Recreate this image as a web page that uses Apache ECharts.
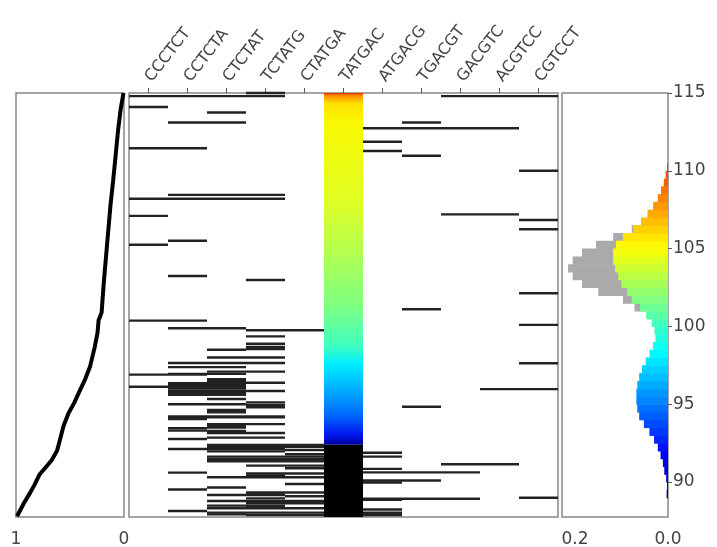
<!DOCTYPE html>
<html>
<head>
<meta charset="utf-8">
<script src="https://cdn.jsdelivr.net/npm/echarts@6/dist/echarts.min.js"></script>
<style>
html, body { margin: 0; padding: 0; background: #fff; }
#main { width: 717px; height: 547px; }
</style>
</head>
<body>
<div id="main"></div>
<script>
// k-mer columns of the middle panel
var kmers = ['CCCTCT', 'CCTCTA', 'CTCTAT', 'TCTATG', 'CTATGA', 'TATGAC', 'ATGACG', 'TGACGT', 'GACGTC', 'ACGTCC', 'CGTCCT'];
var yTicks = [90, 95, 100, 105, 110, 115];
var yRange = [87.75, 115];

// left panel: cumulative curve [fraction, y]
var cumCurve = [
    [0.005, 115.0], [0.03, 114.0], [0.055, 112.6], [0.08, 110.8], [0.10, 109.4],
    [0.125, 107.8], [0.145, 106.2], [0.165, 104.6], [0.185, 103.0], [0.20, 101.6],
    [0.207, 100.9], [0.235, 100.4], [0.245, 99.6], [0.27, 98.7], [0.315, 97.4],
    [0.36, 96.6], [0.407, 95.9], [0.46, 95.1], [0.515, 94.4], [0.56, 93.6],
    [0.59, 92.8], [0.62, 92.0], [0.67, 91.4], [0.73, 90.9], [0.78, 90.5],
    [0.83, 89.8], [0.87, 89.3], [0.93, 88.6], [0.99, 87.8]
];

// middle panel: [y, first k-mer index, last k-mer index]
var segments = [
    [115.0, 3, 3], [114.8, 0, 3], [114.8, 8, 10], [114.1, 0, 0], [113.75, 2, 2],
    [113.1, 1, 2], [113.1, 7, 7], [112.73, 6, 9], [111.87, 6, 6], [111.45, 0, 1],
    [111.27, 6, 6], [110.97, 7, 7], [110.0, 10, 10], [108.45, 1, 3], [108.2, 0, 3],
    [107.2, 8, 9], [107.1, 0, 0], [106.84, 10, 10], [106.24, 10, 10], [105.5, 1, 1],
    [105.25, 0, 0], [103.24, 1, 1], [102.98, 3, 3], [102.13, 10, 10], [101.1, 7, 7],
    [100.37, 0, 1], [100.1, 10, 10], [99.88, 1, 2], [99.75, 3, 4], [99.36, 3, 3],
    [98.88, 3, 3], [98.68, 3, 3], [98.55, 3, 3], [98.5, 2, 2], [98.0, 2, 3],
    [97.65, 1, 3], [97.63, 10, 10], [97.38, 1, 2], [97.09, 2, 3], [96.95, 1, 2],
    [96.9, 0, 1], [96.6, 2, 2], [96.5, 2, 2], [96.38, 3, 3], [96.35, 1, 2],
    [96.25, 1, 2], [96.12, 0, 0], [96.12, 1, 2], [96.0, 1, 2], [95.97, 9, 10],
    [95.85, 3, 3], [95.85, 1, 2], [95.72, 1, 2], [95.6, 1, 2], [95.33, 2, 2],
    [95.12, 3, 3], [95.0, 1, 2], [94.95, 3, 3], [94.84, 7, 7], [94.8, 3, 3],
    [94.63, 2, 2], [94.48, 2, 2], [94.22, 1, 3], [94.15, 1, 3], [94.05, 1, 1],
    [93.72, 2, 3], [93.6, 2, 2], [93.5, 2, 2], [93.45, 1, 1], [93.3, 1, 1],
    [93.28, 2, 2], [93.15, 2, 3], [92.85, 2, 3], [92.76, 1, 1], [92.38, 2, 4],
    [92.25, 2, 4], [92.12, 1, 3], [92.05, 4, 4], [91.97, 2, 3], [91.88, 6, 6],
    [91.78, 4, 4], [91.63, 2, 4], [91.63, 6, 6], [91.48, 2, 4], [91.33, 2, 4],
    [91.14, 8, 9], [91.05, 3, 4], [90.88, 4, 4], [90.84, 6, 6], [90.62, 6, 8],
    [90.6, 1, 1], [90.55, 3, 4], [90.42, 3, 3], [90.3, 2, 4], [90.1, 6, 7],
    [89.97, 6, 6], [89.87, 4, 4], [89.65, 2, 2], [89.52, 1, 1], [89.32, 3, 4],
    [89.2, 3, 3], [89.16, 2, 3], [89.08, 4, 4], [88.99, 10, 10], [88.95, 3, 3],
    [88.92, 6, 8], [88.85, 6, 6], [88.78, 2, 4], [88.63, 3, 4], [88.48, 2, 3],
    [88.4, 3, 3], [88.31, 2, 4], [88.23, 6, 6], [88.14, 1, 1], [88.03, 2, 4],
    [88.02, 6, 6], [87.92, 2, 2], [87.88, 3, 4], [87.88, 6, 6]
];

// colour bar in the TATGAC column: [column, y from, y to]
var colourBar = [5, 92.4, 115];
var blackBar = [5, 87.75, 92.4];

// right panel: histograms [bin centre y] -> fraction
var histY = [
    89.25, 89.75, 90.25, 90.75, 91.25, 91.75, 92.25, 92.75, 93.25, 93.75,
    94.25, 94.75, 95.25, 95.75, 96.25, 96.75, 97.25, 97.75, 98.25, 98.75,
    99.25, 99.75, 100.25, 100.75, 101.25, 101.75, 102.25, 102.75, 103.25, 103.75,
    104.25, 104.75, 105.25, 105.75, 106.25, 106.75, 107.25, 107.75, 108.25, 108.75,
    109.25, 109.75, 110.25
];
var histColoured = [
    0.003, 0.002, 0.004, 0.008, 0.011, 0.016, 0.022, 0.030, 0.040, 0.052,
    0.062, 0.066, 0.068, 0.068, 0.066, 0.062, 0.056, 0.048, 0.040, 0.032,
    0.027, 0.029, 0.035, 0.047, 0.060, 0.078, 0.088, 0.100, 0.107, 0.114,
    0.118, 0.118, 0.112, 0.097, 0.075, 0.058, 0.044, 0.032, 0.022, 0.015,
    0.009, 0.005, 0.002
];
var grayY = [100.75, 101.25, 101.75, 102.25, 102.75, 103.25, 103.75, 104.25, 104.75, 105.25, 105.75, 106.25];
var grayVals = [0.045, 0.072, 0.097, 0.150, 0.185, 0.205, 0.215, 0.205, 0.185, 0.155, 0.118, 0.078];

var jet = ['#00007f', '#0000ff', '#0080ff', '#00ffff', '#80ff80', '#ffff00', '#ff8000', '#ff0000', '#800000'];

var barGradient = {
    type: 'linear', x: 0, y: 0, x2: 0, y2: 1,
    colorStops: [
        { offset: 0, color: '#d83000' },
        { offset: 0.008, color: '#ff9000' },
        { offset: 0.03, color: '#ffe000' },
        { offset: 0.08, color: '#f8f800' },
        { offset: 0.3, color: '#e2ff22' },
        { offset: 0.45, color: '#b4ff4e' },
        { offset: 0.6, color: '#80ff80' },
        { offset: 0.72, color: '#40ffc0' },
        { offset: 0.77, color: '#00eeff' },
        { offset: 0.85, color: '#00a8ff' },
        { offset: 0.92, color: '#0064ff' },
        { offset: 0.97, color: '#0018f0' },
        { offset: 1, color: '#0000a0' }
    ]
};

function toPairs(ys, vs) {
    var out = [];
    for (var i = 0; i < ys.length; i++) {
        out.push([ys[i], vs[i]]);
    }
    return out;
}

// segment across whole k-mer bands
function segItem(params, api) {
    var y = api.value(0), a = api.value(1), b = api.value(2);
    var bw = api.size([1, 0])[0];
    var p1 = api.coord([a, y]);
    var p2 = api.coord([b, y]);
    return {
        type: 'line',
        shape: { x1: p1[0] - bw / 2, y1: p1[1], x2: p2[0] + bw / 2, y2: p2[1] },
        style: { stroke: '#222', lineWidth: 2.4 }
    };
}

function barItem(params, api) {
    var c = api.value(0), y0 = api.value(1), y1 = api.value(2);
    var bw = api.size([1, 0])[0];
    var top = api.coord([c, y1]);
    var bot = api.coord([c, y0]);
    return {
        type: 'rect',
        shape: { x: top[0] - bw / 2, y: top[1], width: bw, height: bot[1] - top[1] },
        style: { fill: params.dataIndex === 0 ? barGradient : '#000' }
    };
}

function histItem(params, api) {
    var y = api.value(0), v = api.value(1);
    var a = api.coord([0, y + 0.25]);
    var b = api.coord([v, y - 0.25]);
    return {
        type: 'rect',
        shape: { x: Math.min(a[0], b[0]), y: a[1], width: Math.abs(b[0] - a[0]), height: b[1] - a[1] + 0.6 },
        style: { fill: api.visual('color') }
    };
}

var gridBase = { show: true, borderColor: '#888', borderWidth: 1.5, containLabel: false, outerBoundsMode: 'none' };
var labelFont = { fontFamily: 'DejaVu Sans', fontSize: 17, color: '#444' };

var myChart = echarts.init(document.getElementById('main'));
var option = {
    animation: false,
    backgroundColor: '#fff',
    grid: [
        Object.assign({ left: 16, top: 93, width: 108, height: 424 }, gridBase),
        Object.assign({ left: 129, top: 93, width: 429, height: 424 }, gridBase),
        Object.assign({ left: 562, top: 93, width: 106, height: 424 }, gridBase)
    ],
    xAxis: [{
        gridIndex: 0, type: 'value', inverse: true, min: 0, max: 1,
        axisLine: { show: false }, axisTick: { show: false }, splitLine: { show: false },
        axisLabel: Object.assign({ customValues: [0, 1], margin: 14 }, labelFont)
    }, {
        gridIndex: 1, type: 'category', position: 'top', data: kmers,
        axisLine: { show: false },
        axisTick: { show: true, alignWithLabel: true, length: 5, lineStyle: { color: '#555' } },
        axisLabel: { interval: 0, rotate: -52, margin: 13, fontFamily: 'DejaVu Sans', fontSize: 16, color: '#444' }
    }, {
        gridIndex: 2, type: 'value', inverse: true, min: 0, max: 0.228,
        axisLine: { show: false }, axisTick: { show: false }, splitLine: { show: false },
        axisLabel: Object.assign({ customValues: [0, 0.2], margin: 14, formatter: function(v) { return v.toFixed(1); } }, labelFont)
    }],
    yAxis: [{
        gridIndex: 0, type: 'value', min: yRange[0], max: yRange[1], show: false
    }, {
        gridIndex: 1, type: 'value', min: yRange[0], max: yRange[1], show: false
    }, {
        gridIndex: 2, type: 'value', position: 'right', min: yRange[0], max: yRange[1],
        axisLine: { show: false }, splitLine: { show: false },
        axisTick: { show: true, length: 4, customValues: yTicks, lineStyle: { color: '#555' } },
        axisLabel: Object.assign({ customValues: yTicks, margin: 5 }, labelFont)
    }],
    visualMap: {
        type: 'continuous', show: false, seriesIndex: 4, dimension: 0,
        min: 88.5, max: 115, inRange: { color: jet }
    },
    series: [{
        type: 'line', xAxisIndex: 0, yAxisIndex: 0, data: cumCurve,
        showSymbol: false, lineStyle: { color: '#000', width: 4 }
    }, {
        type: 'custom', xAxisIndex: 1, yAxisIndex: 1, renderItem: barItem,
        encode: { x: 0, y: [1, 2] }, data: [colourBar, blackBar]
    }, {
        type: 'custom', xAxisIndex: 1, yAxisIndex: 1, renderItem: segItem,
        encode: { x: [1, 2], y: 0 }, data: segments
    }, {
        type: 'custom', xAxisIndex: 2, yAxisIndex: 2, renderItem: histItem,
        encode: { x: 1, y: 0 }, itemStyle: { color: '#aaaaaa' }, data: toPairs(grayY, grayVals)
    }, {
        type: 'custom', xAxisIndex: 2, yAxisIndex: 2, renderItem: histItem,
        encode: { x: 1, y: 0 }, data: toPairs(histY, histColoured)
    }]
};
myChart.setOption(option);
</script>
</body>
</html>
